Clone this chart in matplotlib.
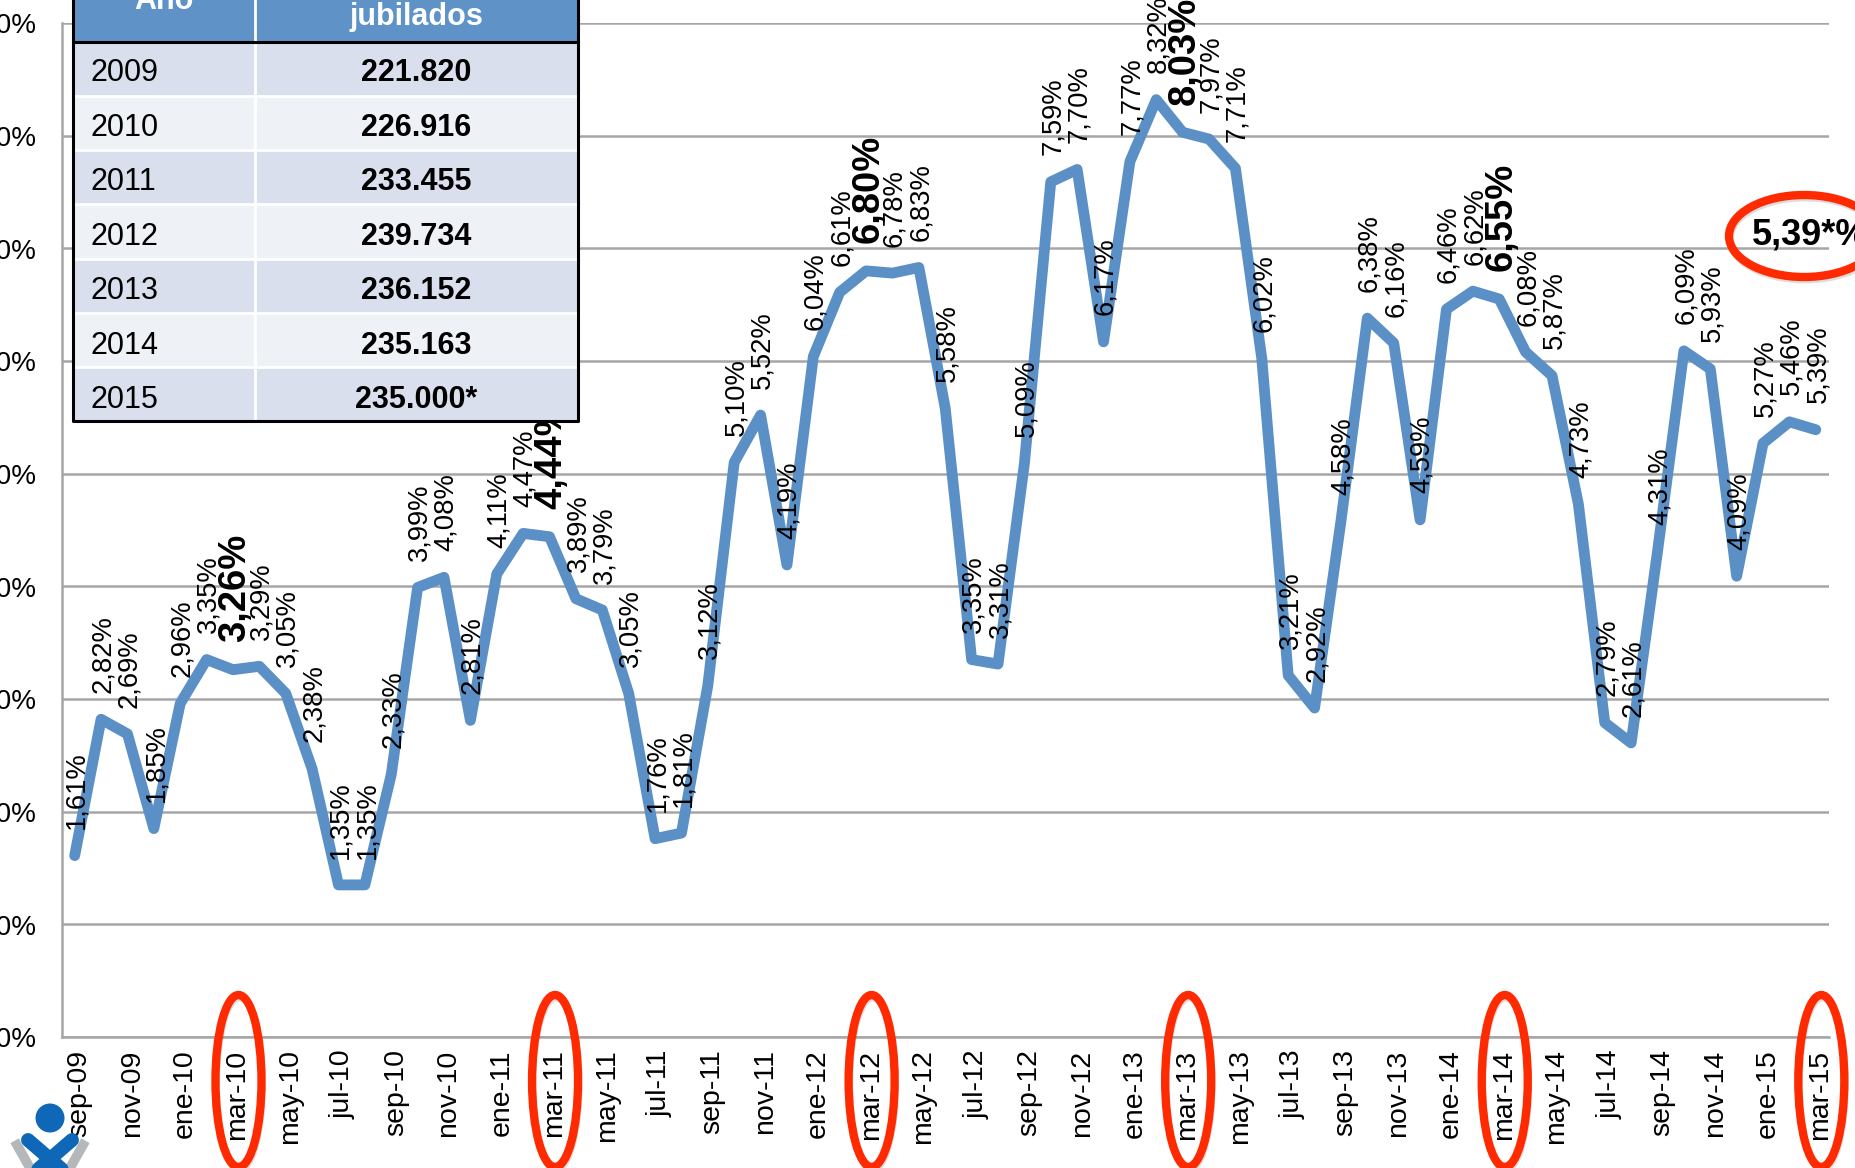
import matplotlib
matplotlib.use("Agg")
import matplotlib.pyplot as plt
from matplotlib.patches import Rectangle, Ellipse, Circle
from matplotlib.transforms import ScaledTranslation

plt.rcParams['font.family'] = ['Liberation Sans', 'DejaVu Sans']

W, H = 1855, 1168
months = ["sep-09","oct-09","nov-09","dic-09","ene-10","feb-10","mar-10","abr-10","may-10","jun-10","jul-10","ago-10",
          "sep-10","oct-10","nov-10","dic-10","ene-11","feb-11","mar-11","abr-11","may-11","jun-11","jul-11","ago-11",
          "sep-11","oct-11","nov-11","dic-11","ene-12","feb-12","mar-12","abr-12","may-12","jun-12","jul-12","ago-12",
          "sep-12","oct-12","nov-12","dic-12","ene-13","feb-13","mar-13","abr-13","may-13","jun-13","jul-13","ago-13",
          "sep-13","oct-13","nov-13","dic-13","ene-14","feb-14","mar-14","abr-14","may-14","jun-14","jul-14","ago-14",
          "sep-14","oct-14","nov-14","dic-14","ene-15","feb-15","mar-15"]
rates = [1.61,2.82,2.69,1.85,2.96,3.35,3.26,3.29,3.05,2.38,1.35,1.35,
         2.33,3.99,4.08,2.81,4.11,4.47,4.44,3.89,3.79,3.05,1.76,1.81,
         3.12,5.10,5.52,4.19,6.04,6.61,6.80,6.78,6.83,5.58,3.35,3.31,
         5.09,7.59,7.70,6.17,7.77,8.32,8.03,7.97,7.71,6.02,3.21,2.92,
         4.58,6.38,6.16,4.59,6.46,6.62,6.55,6.08,5.87,4.73,2.79,2.61,
         4.31,6.09,5.93,4.09,5.27,5.46,5.39]
bold_months = ["mar-10","mar-11","mar-12","mar-13","mar-14"]
circled_months = ["mar-10","mar-11","mar-12","mar-13","mar-14","mar-15"]
y_ticks = [0,1,2,3,4,5,6,7,8,9]
table_years = ["2009","2010","2011","2012","2013","2014","2015"]
table_values = ["221.820","226.916","233.455","239.734","236.152","235.163","235.000*"]
table_header = ["Año", "jubilados"]
callout = "5,39*%"

BLUE = "#5B90C7"
GREY = "#A6A6A6"
RED = "#FF2A00"

fig = plt.figure(figsize=(W/100, H/100), dpi=100, facecolor="white")
L, R, T, B = 61.5, 1829, 23, 1037
ax = fig.add_axes([L/W, 1-B/H, (R-L)/W, (B-T)/H])
ax.set_xlim(-0.5, len(months)-0.5)
ax.set_ylim(0, 9)
for s in ["top", "right"]:
    ax.spines[s].set_visible(False)
for s in ["left", "bottom"]:
    ax.spines[s].set_color(GREY)
    ax.spines[s].set_linewidth(1.8)
ax.set_axisbelow(True)
ax.grid(axis="y", color=GREY, lw=1.8)
ax.set_yticks(y_ticks)
ax.set_yticklabels([f"{v},00%" for v in y_ticks], fontsize=20, color="black")
ax.tick_params(axis="y", length=0, pad=18)
xt = list(range(0, len(months), 2))
ax.set_xticks(xt)
ax.set_xticklabels([months[i] for i in xt], rotation=90, fontsize=20.5, ha="center", va="top")
ax.tick_params(axis="x", length=0, pad=9)
shift = ScaledTranslation(4.5/100, 0, fig.dpi_scale_trans)
for lab in ax.get_xticklabels():
    lab.set_transform(lab.get_transform() + shift)
    lab.set_zorder(6)

xs = list(range(len(months)))
ax.plot(xs, rates, color=BLUE, lw=7.8, solid_joinstyle="round", solid_capstyle="round", zorder=3, clip_on=False)

for x, m, v in zip(xs, months, rates):
    b = m in bold_months
    ax.annotate(f"{v:.2f}%".replace(".", ","), (x, v), xytext=(1.5, 20 if b else 19),
                textcoords="offset points", rotation=90, ha="center", va="bottom",
                fontsize=27.5 if b else 19.7, fontweight="bold" if b else "normal",
                color="black", zorder=4, annotation_clip=False)

# overlay in pixel coordinates
ov = fig.add_axes([0, 0, 1, 1], zorder=5)
ov.set_xlim(0, W); ov.set_ylim(H, 0); ov.axis("off"); ov.patch.set_alpha(0)

# red rings
for m in circled_months:
    xp = ax.transData.transform((months.index(m), 0))[0] + 5.5
    ov.add_patch(Ellipse((xp+1, 1084), 46, 172, fill=False, ec="#555555", lw=5, alpha=0.2))
    ov.add_patch(Ellipse((xp, 1081), 46, 172, fill=False, ec=RED, lw=6))
ov.add_patch(Ellipse((1805, 239), 150, 82, fill=False, ec="#555555", lw=5, alpha=0.2))
ov.add_patch(Ellipse((1804, 236), 150, 82, fill=False, ec=RED, lw=6))
ov.text(1752, 245, callout, fontsize=26, fontweight="bold", ha="left", va="baseline", clip_on=False)

# table
tx0, tx1, txm = 73, 578, 255
head_b = 42
row_h = (421-42)/7
ov.add_patch(Rectangle((tx0, -20), tx1-tx0, head_b+20, fc="#5F93C8", ec="none"))
for i, (yr, val) in enumerate(zip(table_years, table_values)):
    y0 = head_b + i*row_h
    ov.add_patch(Rectangle((tx0, y0), tx1-tx0, row_h, fc="#D9DFED" if i % 2 == 0 else "#EEF1F6", ec="none"))
    ov.plot([tx0, tx1], [y0, y0], color="white", lw=2)
    ty = y0 + row_h/2 + 4 + i*0.35
    ov.text(91, ty, yr, fontsize=22, va="center", ha="left", color="black")
    ov.text((txm+tx1)/2, ty, val, fontsize=22, fontweight="bold", va="center", ha="center", color="black")
ov.plot([txm, txm], [0, 421], color="white", lw=2)
ov.plot([tx0, tx1], [head_b, head_b], color="black", lw=2.2)
ov.plot([tx0, tx0, tx1, tx1], [0, 421, 421, 0], color="black", lw=2.2)
ov.text((tx0+txm)/2, 9, table_header[0], fontsize=22, fontweight="bold", color="white", ha="center", va="baseline")
ov.text((txm+tx1)/2, 17, table_header[1], fontsize=22, fontweight="bold", color="white", ha="center", va="center")

# logo
ov.plot([17, 30, 50], [1145, 1168, 1195], color="#B5B8BB", lw=7, zorder=1)
ov.plot([83, 70, 50], [1145, 1168, 1195], color="#B5B8BB", lw=7, zorder=1)
ov.add_patch(Circle((50, 1118), 14.5, fc="#0F67B8", ec="none", zorder=2))
ov.plot([28, 72], [1140, 1178], color="#0F67B8", lw=10, solid_capstyle="round", zorder=2)
ov.plot([72, 28], [1140, 1178], color="#0F67B8", lw=10, solid_capstyle="round", zorder=2)

fig.savefig("out.png", dpi=100, facecolor="white")
